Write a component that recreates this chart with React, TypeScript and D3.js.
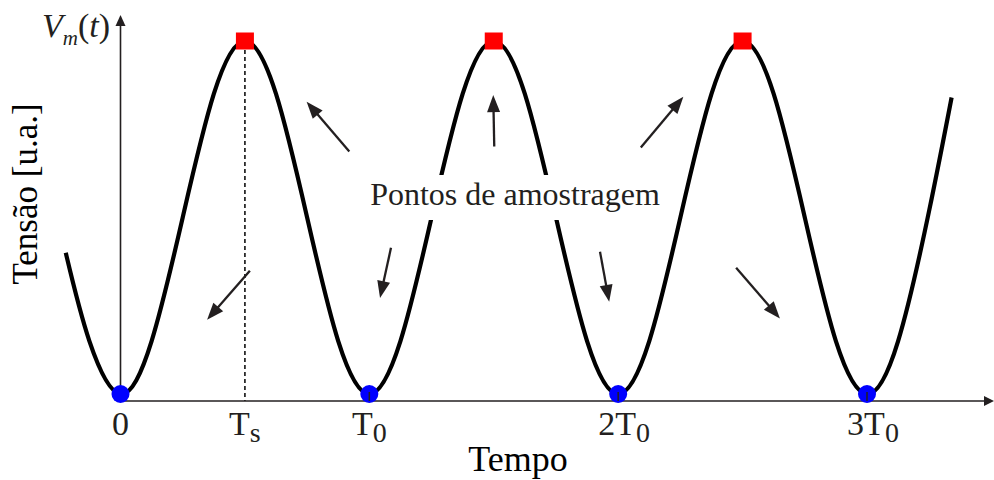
import React from 'react';
import * as d3 from 'd3';

const W = 994;
const H = 480;

// Waveform samples: time in units of T0, voltage in arbitrary units
const waveTimes = [
  -0.22, -0.125, 0, 0.125, 0.25, 0.375, 0.5, 0.625, 0.75, 0.875,
  1, 1.125, 1.25, 1.375, 1.5, 1.625, 1.75, 1.875,
  2, 2.125, 2.25, 2.375, 2.5, 2.625, 2.75, 2.875,
  3, 3.125, 3.25, 3.34,
];
const waveVolts = [
  0.4, 0.15, 0, 0.15, 0.5, 0.85, 1, 0.85, 0.5, 0.15,
  0, 0.15, 0.5, 0.85, 1, 0.85, 0.5, 0.15,
  0, 0.15, 0.5, 0.85, 1, 0.85, 0.5, 0.15,
  0, 0.15, 0.52, 0.84,
];

// Sampling instants: minima (blue) and maxima (red)
const minTimes = [0, 1, 2, 3];
const minVolts = [0, 0, 0, 0];
const maxTimes = [0.5, 1.5, 2.5];
const maxVolts = [1, 1, 1];

// Time axis labels
const tickTimes = [0, 0.5, 1, 2, 3];
const tickMain = ['0', 'T', 'T', '2T', '3T'];
const tickSub = ['', 's', '0', '0', '0'];

// Arrows pointing from the caption towards the sampled points: [t, v]
const arrowTails = [
  [0.9195, 0.687], [0.52, 0.349], [1.087, 0.414], [1.502, 0.701],
  [1.927, 0.403], [2.091, 0.698], [2.474, 0.358],
];
const arrowTips = [
  [0.748, 0.828], [0.348, 0.21], [1.043, 0.272], [1.498, 0.847],
  [1.964, 0.261], [2.262, 0.842], [2.65, 0.214],
];

const caption = 'Pontos de amostragem';
const xTitle = 'Tempo';
const yTitle = 'Tensão [u.a.]';

const INK = '#231f20';
const SERIF = '"Liberation Serif", "Times New Roman", serif';

export default function App() {
  const x = d3.scaleLinear().domain([0, 3]).range([120.5, 867]);
  const y = d3.scaleLinear().domain([0, 1]).range([394, 41]);

  const axisY = 401;
  const axisX = x(0);

  const wave = d3
    .line<number>()
    .x((_, i) => x(waveTimes[i]))
    .y((v) => y(v))
    .curve(d3.curveNatural)(waveVolts) as string;

  const arrows = arrowTails.map((tail, i) => {
    const tip = arrowTips[i];
    const x0 = x(tail[0]);
    const y0 = y(tail[1]);
    const x1 = x(tip[0]);
    const y1 = y(tip[1]);
    const dx = x1 - x0;
    const dy = y1 - y0;
    const len = Math.hypot(dx, dy);
    const ux = dx / len;
    const uy = dy / len;
    const headL = 17;
    const headW = 6.5;
    const bx = x1 - ux * headL;
    const by = y1 - uy * headL;
    const head = `M${x1},${y1}L${bx - uy * headW},${by + ux * headW}L${bx + uy * headW},${by - ux * headW}Z`;
    return { x0, y0, bx: x1 - ux * (headL - 2), by: y1 - uy * (headL - 2), head };
  });

  const tsX = x(0.5);

  return (
    <svg
      width={W}
      height={H}
      style={{ position: 'absolute', left: 0, top: 0, background: '#fff' }}
      fontFamily={SERIF}
    >
      {/* dashed marker at Ts */}
      <line
        x1={tsX}
        x2={tsX}
        y1={50}
        y2={axisY}
        stroke="#111"
        strokeWidth={1.6}
        strokeDasharray="4 3"
      />

      {/* waveform */}
      <path d={wave} fill="none" stroke="#000" strokeWidth={4.2} />

      {/* axes */}
      <line x1={axisX} x2={986} y1={axisY} y2={axisY} stroke={INK} strokeWidth={1.6} />
      <path d={`M994,${axisY}L984,${axisY - 5}L984,${axisY + 5}Z`} fill={INK} />
      <line x1={axisX} x2={axisX} y1={axisY} y2={22} stroke={INK} strokeWidth={1.6} />
      <path d={`M${axisX},15L${axisX - 5},26L${axisX + 5},26Z`} fill={INK} />

      {/* caption with white backing */}
      <rect x={368} y={175} width={294} height={45} fill="#fff" />
      <text x={515} y={205} fontSize={32} textAnchor="middle" fill={INK}>
        {caption}
      </text>

      {/* arrows */}
      {arrows.map((a, i) => (
        <g key={i}>
          <line x1={a.x0} y1={a.y0} x2={a.bx} y2={a.by} stroke={INK} strokeWidth={2.3} />
          <path d={a.head} fill={INK} />
        </g>
      ))}

      {/* sampled minima */}
      {minTimes.map((t, i) => (
        <circle key={i} cx={x(t)} cy={y(minVolts[i])} r={9} fill="#0000ff" />
      ))}
      {/* tick marks */}
      {minTimes
        .filter((t) => t > 0)
        .map((t, i) => (
          <line key={i} x1={x(t)} x2={x(t)} y1={392} y2={axisY} stroke={INK} strokeWidth={1.5} />
        ))}

      {/* sampled maxima */}
      {maxTimes.map((t, i) => (
        <rect key={i} x={x(t) - 9} y={y(maxVolts[i]) - 8.5} width={18} height={17} fill="#ff0000" />
      ))}

      {/* tick labels */}
      {tickTimes.map((t, i) => (
        <text
          key={i}
          x={x(t) + (tickMain[i].length > 1 ? 6 : 0)}
          y={435}
          fontSize={34}
          textAnchor="middle"
          fill={INK}
        >
          <tspan>{tickMain[i]}</tspan>
          {tickSub[i] && (
            <tspan fontSize={28} dy={7}>
              {tickSub[i]}
            </tspan>
          )}
        </text>
      ))}

      {/* axis titles */}
      <text x={518} y={471} fontSize={36} textAnchor="middle" fill="#000">
        {xTitle}
      </text>
      <text
        transform="translate(37,194) rotate(-90)"
        fontSize={35}
        textAnchor="middle"
        fill="#000"
        style={{ whiteSpace: 'pre' }}
      >
        {yTitle}
      </text>

      {/* V_m(t) */}
      <text x={42} y={37} fontSize={34} fill={INK}>
        <tspan fontStyle="italic">V</tspan>
        <tspan fontSize={21} fontStyle="italic" dy={8}>
          m
        </tspan>
        <tspan dy={-8}>(</tspan>
        <tspan fontStyle="italic">t</tspan>
        <tspan>)</tspan>
      </text>
    </svg>
  );
}
